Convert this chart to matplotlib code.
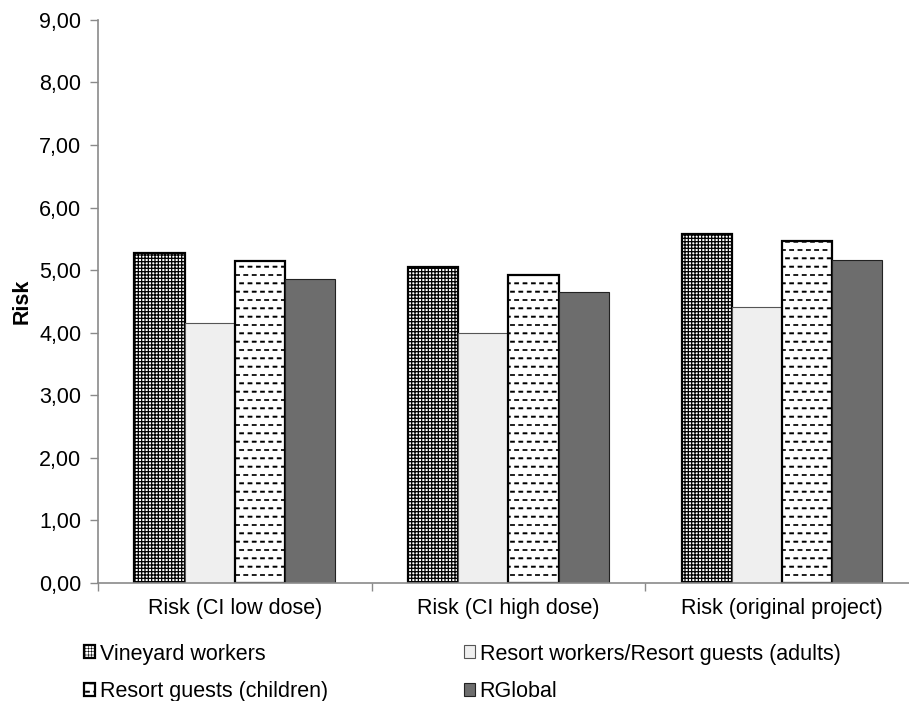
import numpy as np
import matplotlib
matplotlib.use('Agg')
import matplotlib.pyplot as plt
import matplotlib.hatch as mhatch
from matplotlib.path import Path
from matplotlib.ticker import FixedLocator, FuncFormatter

plt.rcParams['font.family'] = ['Liberation Sans', 'DejaVu Sans']

categories = ['Risk (CI low dose)', 'Risk (CI high dose)', 'Risk (original project)']
series_names = ['Vineyard workers', 'Resort workers/Resort guests (adults)',
                'Resort guests (children)', 'RGlobal']
vineyard = [5.27, 5.05, 5.58]
resort_adults = [4.16, 3.99, 4.41]
resort_children = [5.14, 4.92, 5.46]
rglobal = [4.86, 4.65, 5.16]
y_ticks = [0, 1, 2, 3, 4, 5, 6, 7, 8, 9]


class DashHatch(mhatch.Shapes):
    """Staggered short horizontal dashes, selected with the 'd' hatch char."""
    size = 1.0
    filled = True

    def __init__(self, hatch, density):
        # the Shapes layout needs an even row count
        self.num_rows = hatch.count('d') * 12
        w, h = 0.25, 0.08
        self.shape_vertices = np.array([[-w, -h], [w, -h], [w, h], [-w, h], [-w, -h]])
        self.shape_codes = np.array([Path.MOVETO, Path.LINETO, Path.LINETO,
                                     Path.LINETO, Path.CLOSEPOLY], dtype=Path.code_type)
        super().__init__(hatch, density)


mhatch._hatch_types.append(DashHatch)
mhatch._validate_hatch_pattern = lambda hatch: None

fig = plt.figure(figsize=(9.09, 7.01), dpi=100)
ax = fig.add_axes([0.1078, 0.1688, 0.903, 0.8027])

x = np.arange(len(categories))
width = 0.1835
offsets = (np.arange(4) - 1.5) * width
axis_grey = '#8a8a8a'
fs = 15.5

plt.rcParams['hatch.linewidth'] = 0.9
b1 = ax.bar(x + offsets[0], vineyard, width, facecolor='white', edgecolor='black',
            hatch='+++++', linewidth=1.6, label=series_names[0])
b2 = ax.bar(x + offsets[1], resort_adults, width, facecolor='#efefef', edgecolor='#555555',
            linewidth=0.8, label=series_names[1])
plt.rcParams['hatch.linewidth'] = 0.4
b3 = ax.bar(x + offsets[2], resort_children, width, facecolor='white', edgecolor='black',
            hatch='d', linewidth=1.6, label=series_names[2])
b4 = ax.bar(x + offsets[3], rglobal, width, facecolor='#6d6d6d', edgecolor='#222222',
            linewidth=0.8, label=series_names[3])

ax.set_xlim(-0.5, len(categories) - 0.5)
ax.set_ylim(0, 9)

for side in ['top', 'right']:
    ax.spines[side].set_visible(False)
for side in ['left', 'bottom']:
    ax.spines[side].set_color(axis_grey)
    ax.spines[side].set_linewidth(1.2)

ax.set_yticks(y_ticks)
ax.yaxis.set_major_formatter(FuncFormatter(lambda v, pos: f'{v:.2f}'.replace('.', ',')))
ax.tick_params(axis='y', length=6, width=1.0, color=axis_grey, labelsize=fs, pad=6)

# group separators as major ticks, category names as minor ticks
ax.xaxis.set_major_locator(FixedLocator(np.arange(len(categories) + 1) - 0.5))
ax.xaxis.set_major_formatter(FuncFormatter(lambda v, pos: ''))
ax.xaxis.set_minor_locator(FixedLocator(x))
ax.set_xticklabels(categories, minor=True)
ax.tick_params(axis='x', which='major', length=6, width=1.0, color=axis_grey)
ax.tick_params(axis='x', which='minor', length=0, labelsize=fs, pad=11)

ax.set_ylabel('Risk', fontsize=fs, fontweight='bold', labelpad=5)

handles = [b1, b3, b2, b4]
labels = [series_names[0], series_names[2], series_names[1], series_names[3]]
fig.legend(handles, labels, loc='upper left', bbox_to_anchor=(0.092, 0.082),
           ncol=2, frameon=False, fontsize=fs, handlelength=0.55, handleheight=0.55,
           handletextpad=0.2, columnspacing=6.3, labelspacing=0.78, borderpad=0,
           borderaxespad=0)

fig.savefig('out.png', dpi=100)
